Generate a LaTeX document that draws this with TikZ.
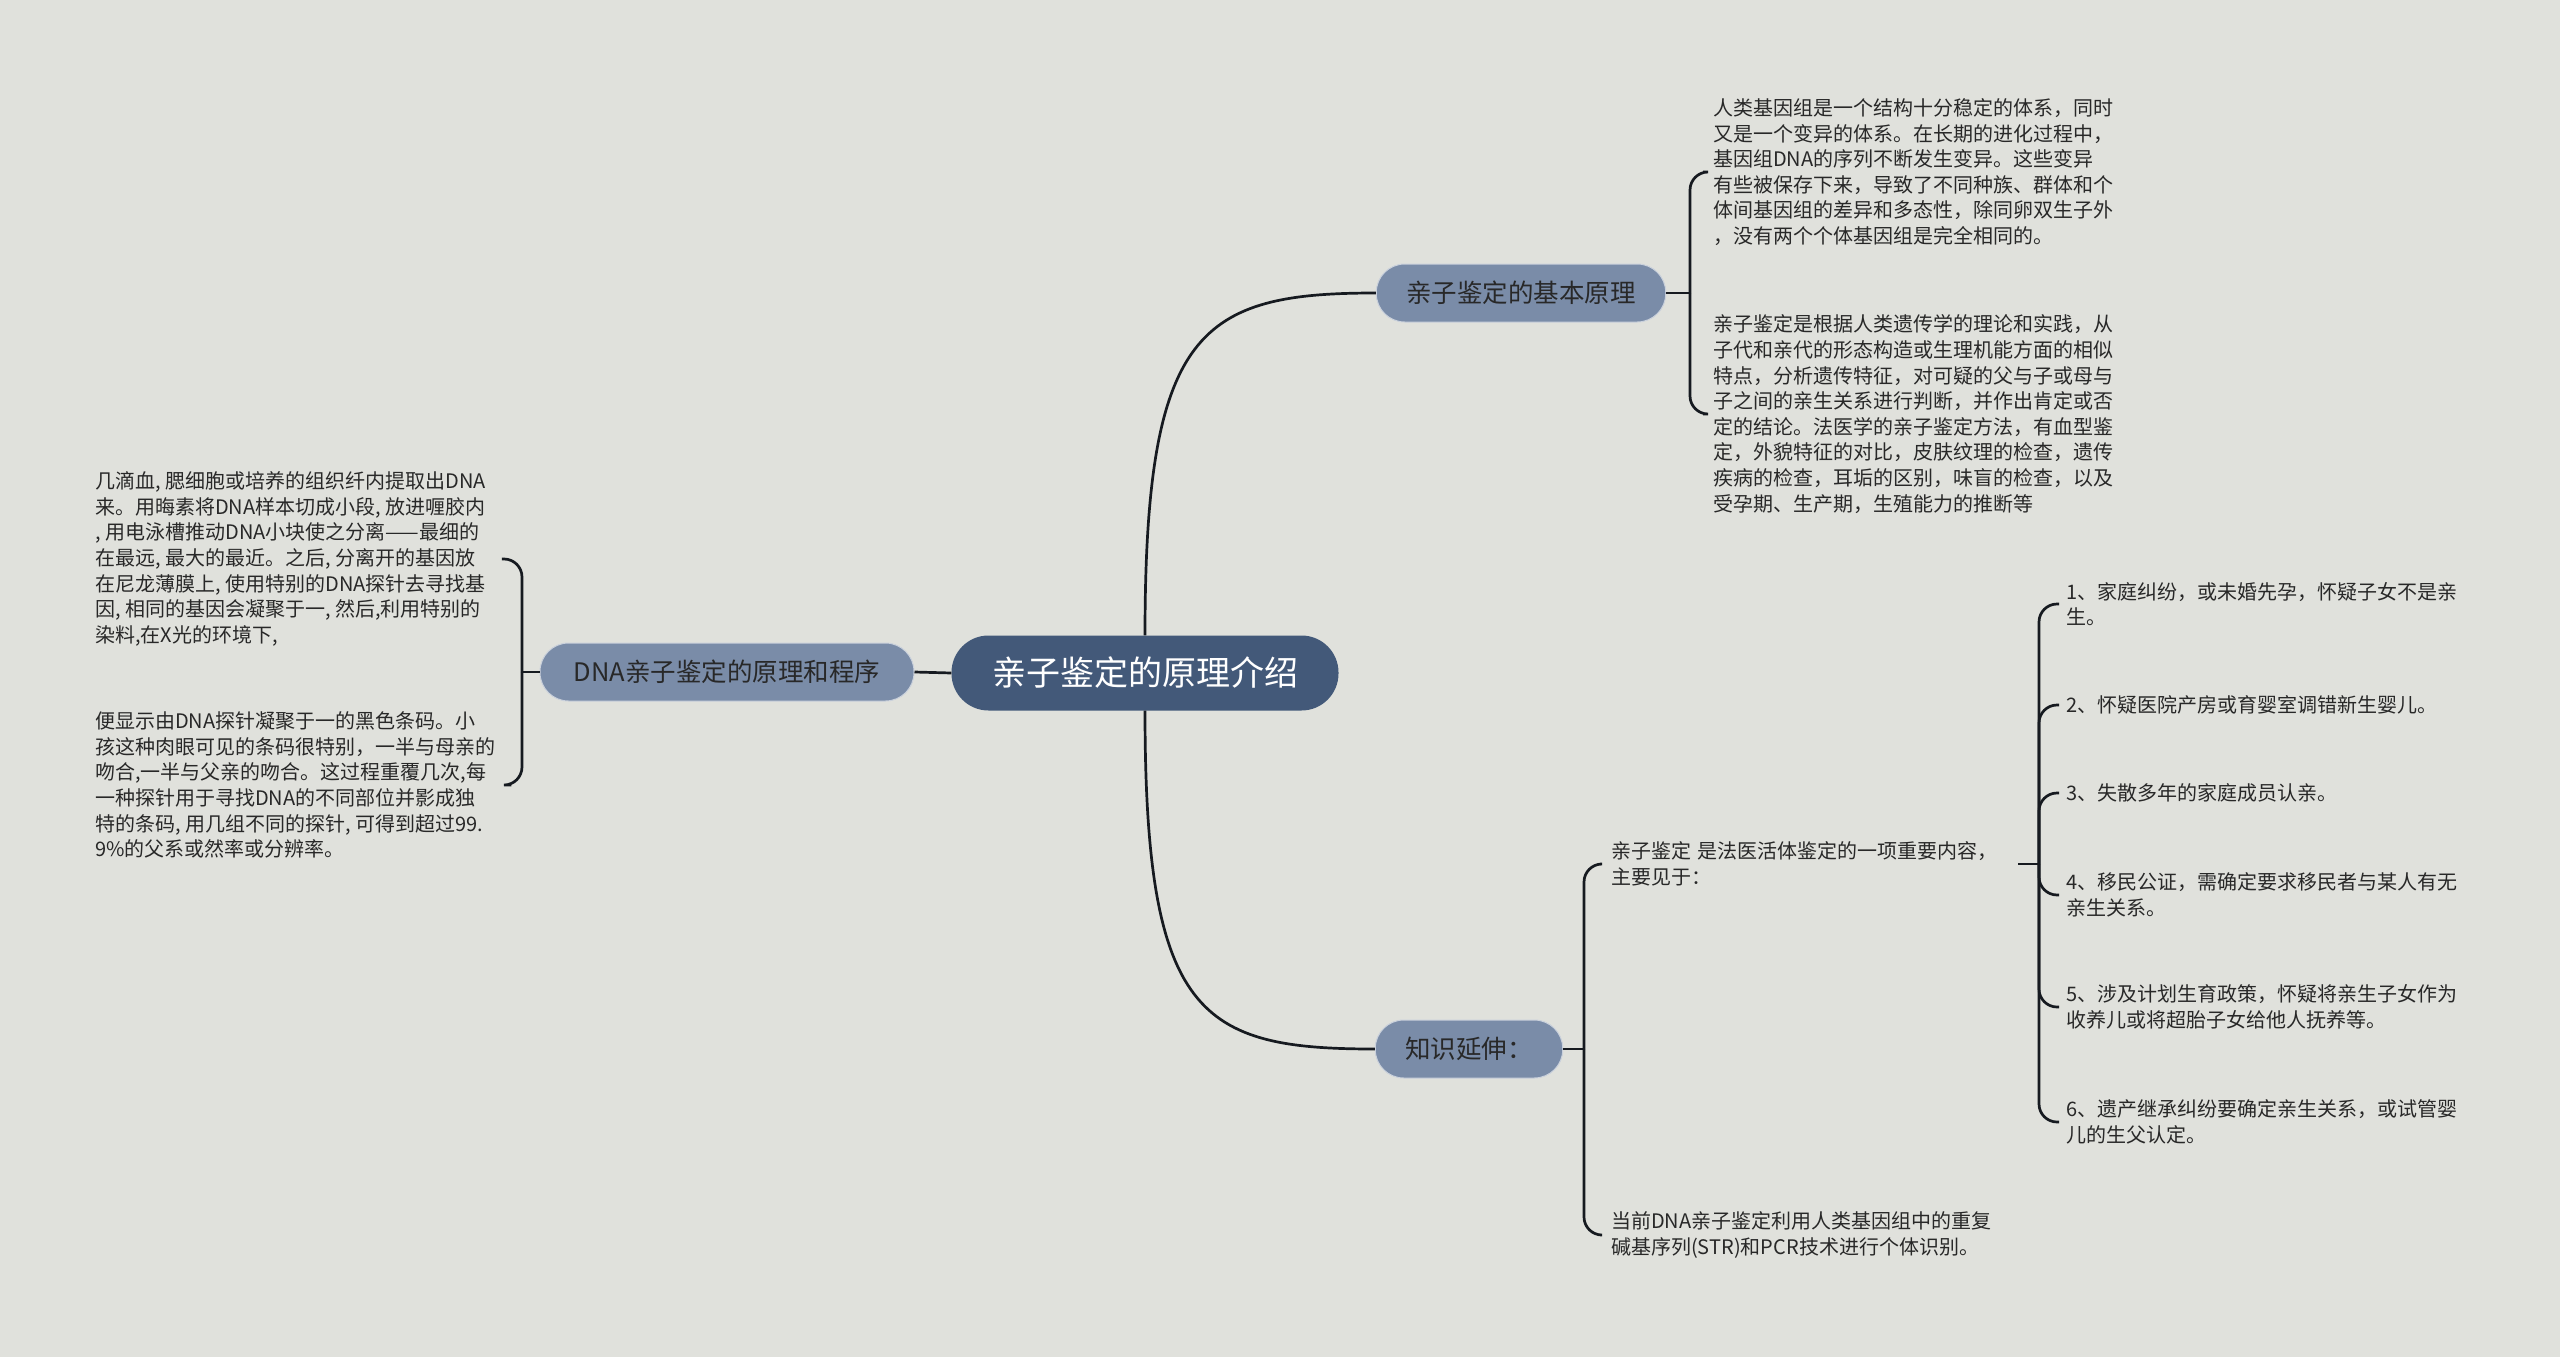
\documentclass[tikz,border=0pt]{standalone}
\usepackage{fontspec}
\setmainfont{Noto Sans CJK SC}
\definecolor{bgc}{RGB}{224,225,220}
\definecolor{rootc}{RGB}{67,89,121}
\definecolor{subc}{RGB}{122,140,168}
\definecolor{linec}{RGB}{22,26,32}
\definecolor{txtc}{RGB}{40,40,40}
\begin{document}
\begin{tikzpicture}[x=1pt,y=-1pt,
  root/.style={rounded corners=37pt, fill=rootc, text=white, font=\fontsize{34}{40}\selectfont, minimum height=75pt, minimum width=387pt},
  sub/.style={rounded corners=28.5pt, fill=subc, draw=white!60!subc, line width=1pt, text=txtc, font=\fontsize{25.5}{30}\selectfont, minimum height=58pt, inner xsep=30pt},
  leaf/.style={align=left, text=txtc, font=\fontsize{20}{25.6}\selectfont, inner sep=0pt, anchor=west},
  link/.style={draw=linec, line width=2.7pt},
  brace/.style={link, rounded corners=18pt}]
\fill[bgc] (0,0) rectangle (2560,1357);
\useasboundingbox (0,0) rectangle (2560,1357);
\node[root] (root) at (1145,673){亲子鉴定的原理介绍};
\node[sub, minimum width=374pt] (dna) at (727,672){DNA亲子鉴定的原理和程序};
\node[sub] (yl) at (1521,293){亲子鉴定的基本原理};
\node[sub] (zs) at (1469,1049){知识延伸：};
\draw[link](root.west) -- (dna.east);
\draw[link](root.north) .. controls (1145,330) and (1200,293) .. (yl.west);
\draw[link](root.south) .. controls (1145,1016) and (1200,1049) .. (zs.west);
% left side
\node[leaf] (dna1) at (95,559){几滴血, 腮细胞或培养的组织纤内提取出DNA\\来。用晦素将DNA样本切成小段, 放进喱胶内\\, 用电泳槽推动DNA小块使之分离——最细的\\在最远, 最大的最近。之后, 分离开的基因放\\在尼龙薄膜上, 使用特别的DNA探针去寻找基\\因, 相同的基因会凝聚于一, 然后,利用特别的\\染料,在X光的环境下,};
\node[leaf] (dna2) at (95,785){便显示由DNA探针凝聚于一的黑色条码。小\\孩这种肉眼可见的条码很特别，一半与母亲的\\吻合,一半与父亲的吻合。这过程重覆几次,每\\一种探针用于寻找DNA的不同部位并影成独\\特的条码, 用几组不同的探针, 可得到超过99.\\9\%的父系或然率或分辨率。};
\coordinate (jdna) at (522,672);
\draw[link](dna.west) -- (jdna);
\draw[brace](jdna) |- ([xshift=16pt]dna1.east);
\draw[brace](jdna) |- ([xshift=16pt]dna2.east);
% top right
\node[leaf] (yl1) at (1713,172){人类基因组是一个结构十分稳定的体系，同时\\又是一个变异的体系。在长期的进化过程中，\\基因组DNA的序列不断发生变异。这些变异\\有些被保存下来，导致了不同种族、群体和个\\体间基因组的差异和多态性，除同卵双生子外\\，没有两个个体基因组是完全相同的。};
\node[leaf] (yl2) at (1713,414){亲子鉴定是根据人类遗传学的理论和实践，从\\子代和亲代的形态构造或生理机能方面的相似\\特点，分析遗传特征，对可疑的父与子或母与\\子之间的亲生关系进行判断，并作出肯定或否\\定的结论。法医学的亲子鉴定方法，有血型鉴\\定，外貌特征的对比，皮肤纹理的检查，遗传\\疾病的检查，耳垢的区别，味盲的检查，以及\\受孕期、生产期，生殖能力的推断等};
\coordinate (jyl) at (1690,293);
\draw[link](yl.east) -- (jyl);
\draw[brace](jyl) |- ([xshift=-10pt]yl1.west);
\draw[brace](jyl) |- ([xshift=-10pt]yl2.west);
% bottom right
\node[leaf, text width=407pt] (zs1) at (1611,864){亲子鉴定 是法医活体鉴定的一项重要内容，\\主要见于：};
\node[leaf] (zs2) at (1611,1235){当前DNA亲子鉴定利用人类基因组中的重复\\碱基序列(STR)和PCR技术进行个体识别。};
\coordinate (jzs) at (1584,1049);
\draw[link](zs.east) -- (jzs);
\draw[brace](jzs) |- ([xshift=-11pt]zs1.west);
\draw[brace](jzs) |- ([xshift=-11pt]zs2.west);
% cases
\node[leaf] (xm1) at (2066,604){1、家庭纠纷，或未婚先孕，怀疑子女不是亲\\生。};
\node[leaf] (xm2) at (2066,705){2、怀疑医院产房或育婴室调错新生婴儿。};
\node[leaf] (xm3) at (2066,793){3、失散多年的家庭成员认亲。};
\node[leaf] (xm4) at (2066,895){4、移民公证，需确定要求移民者与某人有无\\亲生关系。};
\node[leaf] (xm5) at (2066,1007){5、涉及计划生育政策，怀疑将亲生子女作为\\收养儿或将超胎子女给他人抚养等。};
\node[leaf] (xm6) at (2066,1122){6、遗产继承纠纷要确定亲生关系，或试管婴\\儿的生父认定。};
\coordinate (jxm) at (2039,864);
\draw[link](zs1.east) -- (jxm);
\foreach \i in {1,...,6}
  \draw[brace](jxm) |- ([xshift=-7pt]xm\i.west);
\end{tikzpicture}
\end{document}
